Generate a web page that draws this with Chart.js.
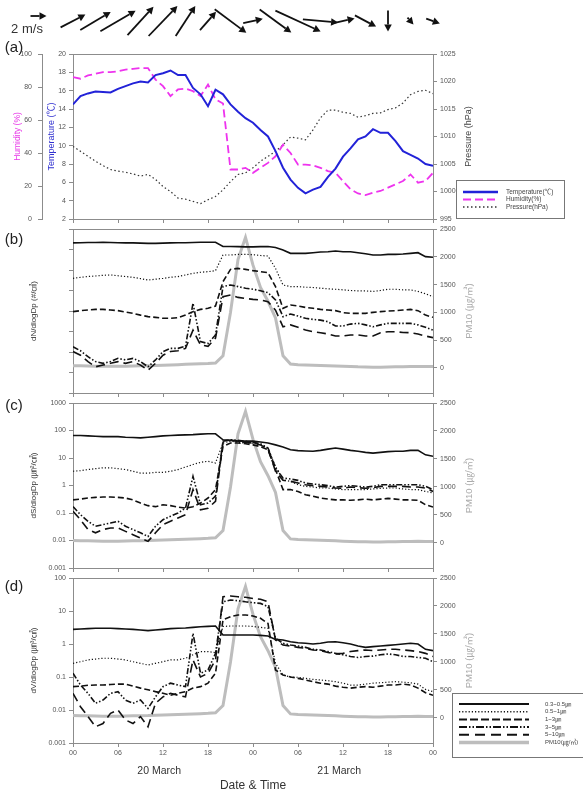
<!DOCTYPE html>
<html>
<head>
<meta charset="utf-8">
<script src="https://cdn.jsdelivr.net/npm/chart.js@4.4.1/dist/chart.umd.min.js"></script>
<style>
  html, body { margin: 0; padding: 0; background: #fff; }
  #wrap { position: relative; width: 583px; height: 794px; overflow: hidden; }
  #wrap canvas { position: absolute; left: 0; top: 0; width: 583px; height: 794px; }
</style>
</head>
<body>
<div id="wrap">
  <canvas id="chartA" width="583" height="794"></canvas>
  <canvas id="chartB" width="583" height="794"></canvas>
  <canvas id="chartC" width="583" height="794"></canvas>
  <canvas id="chartD" width="583" height="794"></canvas>
  <canvas id="chartWind" width="583" height="794"></canvas>
</div>
<script>
// --- data: hours from 20 March 00:00 ---
var hours = [0,1,2,3,4,5,6,7,8,9,10,11,12,13,14,15,16,17,18,19,20,21,22,23,24,25,26,27,28,29,30,31,32,33,34,35,36,37,38,39,40,41,42,43,44,45,46,47,48];
var timeTicks = [0, 6, 12, 18, 24, 30, 36, 42, 48];
var timeTickLabels = ['00', '06', '12', '18', '00', '06', '12', '18', '00'];
var dayLabels = ['20 March', '21 March'];
var dayCentres = [11.5, 35.5];

// wind, every 3 h (m/s)
var windHours = [0,3,6,9,12,15,18,21,24,27,30,33,36,39,42,45,48];
var windU = [3.1,3.8,4.4,3.25,3.6,2.45,2.0,3.95,2.45,3.95,5.65,4.4,2.9,2.65,0,0.75,1.7];
var windV = [1.6,2.25,2.55,3.55,3.75,3.75,2.3,-2.95,0.55,-2.9,-2.6,-0.4,0.65,-1.4,-2.6,-0.85,-0.6];
var refSpeed = 2;

// (a) meteorology
var temperature = [14.5,15.4,15.7,15.9,15.85,15.8,16.2,16.5,16.8,17.0,16.9,17.7,17.9,18.2,17.7,17.7,16.3,15.6,14.3,16.1,15.6,14.5,13.7,13.0,12.5,11.7,11.0,9.4,7.6,6.3,5.4,4.8,5.2,5.5,6.6,7.5,8.8,9.7,10.7,11.0,11.8,11.4,11.4,10.5,9.4,9.0,8.6,8.0,7.8];
var humidity = [86,85,87,88,89,89,89.5,90.5,91,91.5,91.5,84.5,80.5,74.5,78.5,79,77.5,74.5,81.5,72.5,70,30,30,31,28,31,34,38,45,40,33,33,32.5,31,29,28,23,18,15.5,14.5,16,17,19,21,23,27,22,23,28];
var pressure = [1008.2,1007.3,1006.4,1005.5,1004.7,1004.0,1003.7,1003.5,1003.2,1002.8,1003.1,1002.2,1000.9,1000.0,998.8,998.6,998.2,997.8,998.5,999.1,1000.3,1001.8,1003.1,1003.4,1004.3,1005.5,1006.4,1007.3,1008.5,1009.9,1009.7,1009.4,1011.2,1013.4,1014.8,1014.8,1014.4,1014.2,1013.5,1013.8,1014.2,1014.3,1014.9,1015.2,1016.1,1017.6,1018.2,1018.4,1017.8];
var tempTicks = [2,4,6,8,10,12,14,16,18,20];
var humTicks = [0,20,40,60,80,100];
var presTicks = [995,1000,1005,1010,1015,1020,1025];

// PM10 (ug/m3), same in (b)-(d)
var pm10 = [40,38,35,32,30,30,30,32,35,38,40,45,50,55,60,65,70,75,80,90,220,1000,1950,2350,1850,1450,1200,900,220,70,60,55,50,45,40,35,30,25,20,18,15,15,18,20,22,25,28,25,25];
var pmTicks = [0,500,1000,1500,2000,2500];

// (b) number distribution
var nSolid = [21000,21500,22000,22000,22500,22000,21500,21000,21000,20500,20000,20000,20500,21000,21500,21500,22000,22500,22500,22500,14000,14000,13800,13500,13500,13800,14000,12500,9500,6500,6500,6500,7000,7500,7800,8500,7800,7800,7000,6200,5400,5400,5800,5800,6000,6500,7000,4500,4200];
var nDotted = [390,440,480,510,550,575,525,480,440,380,325,355,390,440,480,575,690,775,830,930,5400,5400,5800,5800,5600,5100,4800,1200,185,155,155,145,140,130,120,115,108,100,96,96,90,100,115,115,108,108,90,69,50];
var nDashed = [9.3,10.4,11.2,12,12,11.2,10.4,8.9,7.7,6.3,5.3,4.9,4.4,4.4,4.7,6.3,9.3,12,13.5,17.5,270,1070,1200,1070,930,830,740,155,13.5,19.5,17.5,15,13.5,12,11.2,10.4,8.3,7.7,7.7,7.7,8.6,9.3,10,10.4,11.2,12,10.4,6.3,4.9];
var nDashDot = [0.18,0.115,0.059,0.034,0.028,0.034,0.049,0.041,0.049,0.034,0.019,0.041,0.105,0.15,0.15,0.19,24,0.32,0.26,0.68,155,186,155,129,115,98,78,35,5.3,7.1,5.7,4.4,3.9,3.6,3.0,1.85,1.85,2.3,2.5,2.1,1.7,2.1,2.5,2.5,2.5,2.5,2.1,1.6,1.17];
var nLongDash = [0.105,0.07,0.034,0.019,0.023,0.028,0.034,0.028,0.034,0.023,0.013,0.028,0.07,0.105,0.115,0.15,1.17,0.22,0.19,0.47,50,60,46,41,37,35,28,11,1.7,2.1,1.6,1.17,0.98,0.87,0.76,0.6,0.6,0.68,0.68,0.6,0.6,0.87,0.98,0.98,0.9,0.87,0.76,0.6,0.5];
var nTicks = [1e-3,1e-2,1e-1,1,10,100,1e3,1e4,1e5];

// (c) surface distribution
var sSolid = [66,66,64,62,60,60,60,57,56,54,57,60,64,66,68,69.5,71,73.6,76,76,46,44,41,41,41,38,35,30,25,20,18.5,18,17.5,19,21,23,21,19,17.5,16,15,16,17,17.5,17.5,19,19,13,11.5];
var sDotted = [3.3,3.46,3.8,4.1,4.4,4.4,4.1,3.8,3.3,2.8,2.8,3.0,3.0,3.3,3.8,4.7,5.8,6.95,7.6,6.6,35,41,37,35,35,30,23,5.0,1.6,1.42,1.07,0.93,0.88,0.81,0.81,0.75,0.71,0.71,0.71,0.71,0.75,0.79,0.81,0.81,0.75,0.71,0.71,0.61,0.54];
var sDashed = [0.30,0.32,0.35,0.37,0.38,0.38,0.37,0.35,0.30,0.23,0.185,0.17,0.20,0.185,0.165,0.15,0.17,0.23,0.35,0.71,26,35,35,33,30,26,20,3.8,0.71,0.71,0.61,0.46,0.41,0.35,0.32,0.30,0.30,0.29,0.30,0.32,0.30,0.32,0.34,0.32,0.30,0.30,0.29,0.20,0.165];
var sDashDot = [0.17,0.087,0.05,0.033,0.038,0.043,0.05,0.033,0.025,0.019,0.014,0.033,0.057,0.076,0.10,0.15,2.15,0.20,0.23,0.41,41,46,44,41,37,33,23,4.4,1.87,1.72,1.54,1.23,1.13,1.07,0.99,0.88,0.93,0.99,0.93,0.88,0.93,1.07,1.07,1.07,1.07,1.07,1.07,0.93,0.71];
var sLongDash = [0.115,0.057,0.025,0.019,0.025,0.0285,0.0285,0.0215,0.0163,0.0123,0.0093,0.019,0.038,0.05,0.066,0.087,0.71,0.13,0.15,0.265,37,44,41,37,35,30,21,3.3,1.54,1.42,1.23,1.07,0.99,0.93,0.88,0.81,0.79,0.88,0.83,0.79,0.83,0.93,0.93,0.93,0.93,0.88,0.88,0.81,0.61];
var sTicks = [0.001,0.01,0.1,1,10,100,1000];

// (d) volume distribution
var vSolid = [2.78,2.85,2.92,2.99,2.99,2.99,2.92,2.85,2.78,2.66,2.54,2.66,2.78,2.92,2.99,3.06,3.2,3.35,3.43,3.51,1.87,1.87,1.87,1.87,1.87,1.83,1.75,1.38,1.32,1.17,1.09,1.05,1.0,1.05,1.15,1.17,1.09,1.0,0.87,0.79,0.83,0.87,0.91,0.95,1.0,1.05,1.0,0.69,0.63];
var vDotted = [0.26,0.29,0.33,0.35,0.37,0.37,0.35,0.33,0.29,0.26,0.23,0.26,0.29,0.33,0.33,0.37,0.47,0.59,0.59,0.55,3.4,3.51,3.51,3.51,3.4,3.2,2.99,0.26,0.115,0.10,0.098,0.091,0.085,0.081,0.077,0.072,0.065,0.057,0.057,0.061,0.065,0.067,0.070,0.072,0.070,0.067,0.061,0.042,0.036];
var vDashed = [0.051,0.053,0.056,0.057,0.057,0.059,0.061,0.061,0.053,0.046,0.041,0.036,0.032,0.028,0.032,0.036,0.046,0.051,0.065,0.13,5.4,6.7,7.6,7.6,7.05,6.0,4.2,0.163,0.115,0.10,0.091,0.081,0.072,0.065,0.061,0.053,0.049,0.046,0.049,0.051,0.049,0.053,0.057,0.057,0.061,0.057,0.046,0.0335,0.028];
var vDashDot = [0.13,0.057,0.032,0.016,0.020,0.032,0.036,0.020,0.016,0.020,0.0112,0.025,0.051,0.065,0.057,0.051,2.1,0.13,0.163,0.52,19,21.5,20.5,19,17.9,17,13.5,1.49,1.05,0.93,0.87,0.79,0.69,0.66,0.59,0.52,0.47,0.42,0.39,0.42,0.43,0.47,0.50,0.47,0.42,0.42,0.39,0.37,0.29];
var vLongDash = [0.032,0.0126,0.0063,0.0031,0.0039,0.0079,0.010,0.005,0.0039,0.0063,0.0031,0.016,0.025,0.032,0.028,0.025,0.33,0.10,0.13,0.33,27,28.5,27,26,24,22.6,19,1.32,0.93,0.87,0.79,0.74,0.66,0.63,0.55,0.50,0.52,0.59,0.63,0.66,0.63,0.66,0.69,0.69,0.66,0.63,0.59,0.52,0.42];
var vTicks = [0.001,0.01,0.1,1,10,100];

var binLabels = ['0.3~0.5㎛', '0.5~1㎛', '1~3㎛', '3~5㎛', '5~10㎛'];
var pmLabel = 'PM10(㎍/㎥)';

// --- look ---
var FONT = '"Liberation Sans", Arial, "Noto Sans CJK KR", sans-serif';
var AXIS = '#8c8c8c';
var TICK_TEXT = '#555';
var binStyles = [
  { dash: [], width: 1.6 },
  { dash: [1.2, 2], width: 1.2 },
  { dash: [6, 3], width: 1.6 },
  { dash: [6, 2, 1.5, 2, 1.5, 2], width: 1.6 },
  { dash: [9, 5], width: 1.6 }
];

function fixWidth(w) { return function(s) { s.width = w; }; }
function fixHeight(h) { return function(s) { s.height = h; }; }
function setTicks(list) { return function(s) { s.ticks = list.map(function(v) { return { value: v }; }); }; }
function plainNumber(v) { return String(v); }

function lineSet(label, vals, axis, color, width, dash) {
  return {
    label: label,
    data: hours.map(function(h, i) { return { x: h, y: vals[i] }; }),
    yAxisID: axis,
    borderColor: color,
    backgroundColor: color,
    borderWidth: width,
    borderDash: dash,
    pointRadius: 0,
    tension: 0,
    fill: false
  };
}

function timeAxis(showLabels, height) {
  return {
    type: 'linear', min: 0, max: 48,
    afterBuildTicks: setTicks(timeTicks),
    afterFit: fixHeight(height),
    border: { color: AXIS },
    grid: { drawOnChartArea: false, tickLength: 4, color: AXIS },
    ticks: {
      display: showLabels, autoSkip: false, maxRotation: 0, padding: 2,
      color: TICK_TEXT, font: { family: FONT, size: 7 },
      callback: function(v, i) { return timeTickLabels[i]; }
    }
  };
}

function sideAxis(pos, weight, width, min, max, list, tickPad) {
  return {
    type: 'linear', position: pos, weight: weight, min: min, max: max,
    afterBuildTicks: setTicks(list),
    afterFit: fixWidth(width),
    border: { color: AXIS },
    grid: { drawOnChartArea: false, tickLength: 4, color: AXIS },
    ticks: { padding: tickPad, color: TICK_TEXT, font: { family: FONT, size: 7 }, callback: plainNumber }
  };
}

// top edge of the plot box
var frameTop = {
  id: 'frameTop',
  afterDraw: function(chart) {
    var a = chart.chartArea, ctx = chart.ctx;
    ctx.save();
    ctx.strokeStyle = AXIS;
    ctx.lineWidth = 1;
    ctx.beginPath();
    ctx.moveTo(a.left, Math.round(a.top) + 0.5);
    ctx.lineTo(a.right, Math.round(a.top) + 0.5);
    ctx.stroke();
    ctx.restore();
  }
};

// panel letter and right-hand rotated titles
var extraText = {
  id: 'extraText',
  afterDraw: function(chart, args, o) {
    var ctx = chart.ctx;
    ctx.save();
    if (o.tag) {
      ctx.font = '15px ' + FONT;
      ctx.fillStyle = '#222';
      ctx.textAlign = 'center';
      ctx.textBaseline = 'middle';
      ctx.fillText(o.tag, 14, o.tagY);
    }
    if (o.side) {
      var s = chart.scales[o.side.scale];
      ctx.translate(s.left + 36, (s.top + s.bottom) / 2);
      ctx.rotate(-Math.PI / 2);
      ctx.font = o.side.size + 'px ' + FONT;
      ctx.fillStyle = o.side.color;
      ctx.textAlign = 'center';
      ctx.textBaseline = 'middle';
      ctx.fillText(o.side.text, 0, 0);
    }
    ctx.restore();
  }
};

var boxLegend = {
  id: 'boxLegend',
  afterDraw: function(chart, args, o) {
    if (!o.w) return;
    var ctx = chart.ctx;
    ctx.save();
    ctx.fillStyle = '#fff';
    ctx.fillRect(o.x, o.y, o.w, o.h);
    ctx.strokeStyle = '#777';
    ctx.lineWidth = 1;
    ctx.strokeRect(o.x + 0.5, o.y + 0.5, o.w, o.h);
    ctx.font = o.size + 'px ' + FONT;
    ctx.textBaseline = 'middle';
    chart.data.datasets.forEach(function(ds, i) {
      var y = o.first + i * o.step;
      ctx.save();
      ctx.strokeStyle = ds.borderColor;
      ctx.lineWidth = ds.borderWidth + 0.4;
      ctx.setLineDash(o.dashes ? o.dashes[i] : (ds.borderDash || []));
      ctx.beginPath();
      ctx.moveTo(o.lineFrom, y);
      ctx.lineTo(o.lineTo, y);
      ctx.stroke();
      ctx.restore();
      ctx.fillStyle = '#444';
      ctx.fillText(ds.label, o.textX, y);
    });
    ctx.restore();
  }
};

var dayText = {
  id: 'dayText',
  afterDraw: function(chart, args, o) {
    if (!o.y) return;
    var ctx = chart.ctx, xs = chart.scales.x;
    ctx.save();
    ctx.font = '10.5px ' + FONT;
    ctx.fillStyle = '#333';
    ctx.textAlign = 'center';
    ctx.textBaseline = 'middle';
    dayLabels.forEach(function(t, i) { ctx.fillText(t, xs.getPixelForValue(dayCentres[i]), o.y); });
    ctx.restore();
  }
};

function drawArrow(ctx, x1, y1, x2, y2) {
  var ang = Math.atan2(y2 - y1, x2 - x1), head = 7, half = 3.8;
  var bx = x2 - head * Math.cos(ang), by = y2 - head * Math.sin(ang);
  ctx.lineWidth = 1.8;
  ctx.beginPath();
  ctx.moveTo(x1, y1);
  ctx.lineTo(bx, by);
  ctx.stroke();
  ctx.beginPath();
  ctx.moveTo(x2, y2);
  ctx.lineTo(bx - half * Math.sin(ang), by + half * Math.cos(ang));
  ctx.lineTo(bx + half * Math.sin(ang), by - half * Math.cos(ang));
  ctx.closePath();
  ctx.fill();
}

var windArrows = {
  id: 'windArrows',
  afterDraw: function(chart, args, o) {
    var ctx = chart.ctx, xs = chart.scales.x;
    ctx.save();
    ctx.strokeStyle = '#111';
    ctx.fillStyle = '#111';
    windHours.forEach(function(t, i) {
      var cx = xs.getPixelForValue(t);
      var dx = windU[i] * o.pxPerMs, dy = -windV[i] * o.pxPerMs;
      drawArrow(ctx, cx - dx / 2, o.midY - dy / 2, cx + dx / 2, o.midY + dy / 2);
    });
    drawArrow(ctx, o.refX, o.refY, o.refX + refSpeed * o.pxPerMs, o.refY);
    ctx.fillStyle = '#333';
    ctx.font = '13px ' + FONT;
    ctx.textAlign = 'center';
    ctx.textBaseline = 'middle';
    ctx.fillText(refSpeed + ' m/s', 27, 29);
    ctx.restore();
  }
};

function baseOptions() {
  return {
    responsive: false,
    animation: false,
    events: [],
    plugins: { legend: { display: false }, tooltip: { enabled: false } }
  };
}

// wind row
var windOpts = baseOptions();
windOpts.layout = { padding: { left: 73, right: 150, top: 0, bottom: 750 } };
windOpts.scales = { x: { type: 'linear', min: 0, max: 48, display: false }, y: { display: false } };
windOpts.plugins.windArrows = { pxPerMs: 8, midY: 21, refX: 30.5, refY: 16 };
new Chart(document.getElementById('chartWind'), {
  type: 'scatter',
  data: { datasets: [] },
  options: windOpts,
  plugins: [windArrows]
});

// (a)
var optsA = baseOptions();
optsA.layout = { padding: { left: 8, right: 110, top: 54, bottom: 794 - 219 - 8 } };
optsA.scales = {
  x: timeAxis(false, 8),
  yT: sideAxis('left', 0, 31, 2, 20, tempTicks, 3),
  yH: sideAxis('left', 1, 34, 0, 100, humTicks, 6),
  yP: sideAxis('right', 0, 40, 995, 1025, presTicks, 3)
};
optsA.scales.yT.title = { display: true, text: 'Temperature (℃)', color: '#2f2fd0', font: { family: FONT, size: 9 }, padding: { top: 4, bottom: 0 } };
optsA.scales.yH.title = { display: true, text: 'Humidity (%)', color: '#e83ae8', font: { family: FONT, size: 8.5 }, padding: { top: 5, bottom: 0 } };
optsA.plugins.extraText = { tag: '(a)', tagY: 48, side: { scale: 'yP', text: 'Pressure (hPa)', color: '#444', size: 9 } };
optsA.plugins.boxLegend = { x: 456, y: 180, w: 108, h: 38, first: 192, step: 7.5, lineFrom: 463, lineTo: 498, textX: 506, size: 6.5 };
new Chart(document.getElementById('chartA'), {
  type: 'line',
  data: {
    datasets: [
      lineSet('Temperature(℃)', temperature, 'yT', '#2222d8', 2, []),
      lineSet('Humidity(%)', humidity, 'yH', '#ee33ee', 1.8, [8, 4]),
      lineSet('Pressure(hPa)', pressure, 'yP', '#333', 1.2, [1.5, 2.5])
    ]
  },
  options: optsA,
  plugins: [frameTop, extraText, boxLegend]
});

// (b)-(d)
function sizeChart(id, cfg) {
  var sets = cfg.series.map(function(vals, i) {
    return lineSet(binLabels[i], vals, 'y', '#111', binStyles[i].width, binStyles[i].dash);
  });
  sets.push(lineSet(pmLabel, pm10, 'yPM', '#bdbdbd', 3, []));

  var opts = baseOptions();
  opts.layout = { padding: { left: 25, right: 110, top: cfg.top, bottom: 794 - cfg.bottom - cfg.xHeight } };
  var x = timeAxis(cfg.xLabels, cfg.xHeight);
  if (cfg.xTitle) {
    x.title = { display: true, text: cfg.xTitle, color: '#333', font: { family: FONT, size: 12 }, padding: { top: 0, bottom: 1 } };
  }
  var y = {
    type: 'logarithmic', position: 'left', min: cfg.ticks[0], max: cfg.ticks[cfg.ticks.length - 1],
    afterBuildTicks: setTicks(cfg.ticks),
    afterFit: fixWidth(48),
    border: { color: AXIS },
    grid: { drawOnChartArea: false, tickLength: 4, color: AXIS },
    ticks: { display: cfg.yLabels, padding: 3, color: TICK_TEXT, font: { family: FONT, size: 7 }, callback: plainNumber },
    title: { display: true, text: cfg.yTitle, color: '#333', font: { family: FONT, size: 8 }, padding: { top: 4, bottom: 0 } }
  };
  var yPM = sideAxis('right', 0, 40, -450, 2500, pmTicks, 3);
  opts.scales = { x: x, y: y, yPM: yPM };
  opts.plugins.extraText = { tag: cfg.tag, tagY: cfg.tagY, side: { scale: 'yPM', text: 'PM10 (㎍/㎥)', color: '#aaa', size: 9.5 } };
  opts.plugins.boxLegend = cfg.legend || {};
  opts.plugins.dayText = cfg.dayY ? { y: cfg.dayY } : {};

  return new Chart(document.getElementById(id), {
    type: 'line',
    data: { datasets: sets },
    options: opts,
    plugins: [frameTop, extraText, boxLegend, dayText]
  });
}

sizeChart('chartB', {
  series: [nSolid, nDotted, nDashed, nDashDot, nLongDash],
  ticks: nTicks, yLabels: false, yTitle: 'dN/dlogDp (#/㎤)',
  top: 229, bottom: 393, xHeight: 8, xLabels: false, tag: '(b)', tagY: 240
});
sizeChart('chartC', {
  series: [sSolid, sDotted, sDashed, sDashDot, sLongDash],
  ticks: sTicks, yLabels: true, yTitle: 'dS/dlogDp (㎛²/㎤)',
  top: 403, bottom: 568, xHeight: 8, xLabels: false, tag: '(c)', tagY: 406
});
sizeChart('chartD', {
  series: [vSolid, vDotted, vDashed, vDashDot, vLongDash],
  ticks: vTicks, yLabels: true, yTitle: 'dV/dlogDp (㎛³/㎤)',
  top: 578, bottom: 743, xHeight: 51, xLabels: true, xTitle: 'Date & Time', dayY: 771,
  tag: '(d)', tagY: 587,
  legend: {
    x: 452, y: 693, w: 131, h: 64, first: 704, step: 7.7, lineFrom: 459, lineTo: 529, textX: 545, size: 6,
    dashes: [[], [1.2, 2], [8, 3], [8, 2, 1.5, 2, 1.5, 2], [10, 6], []]
  }
});
</script>
</body>
</html>
